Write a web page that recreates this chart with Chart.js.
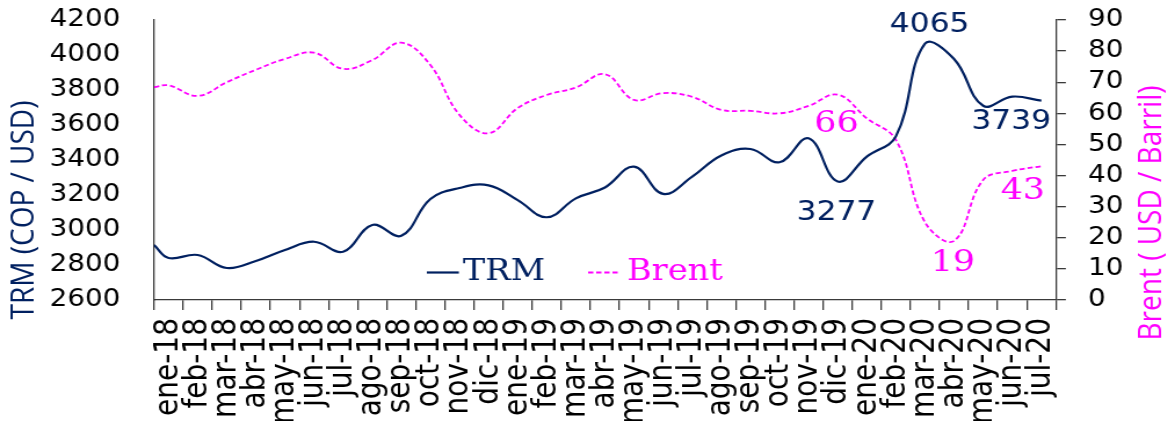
<!DOCTYPE html>
<html>
<head>
<meta charset="utf-8">
<script src="https://cdn.jsdelivr.net/npm/chart.js@4.4.1/dist/chart.umd.min.js"></script>
<style>
  html, body { margin: 0; padding: 0; background: #fff; overflow: hidden; }
  /* the chart is laid out on a narrower canvas and widened to the page */
  #wrap { width: 1013px; height: 421px; transform: scaleX(1.15992); transform-origin: 0 0; }
</style>
</head>
<body>
<div id="wrap"><canvas id="c" width="1013" height="421"></canvas></div>
<script>
// Monthly categories
const months = ['ene-18','feb-18','mar-18','abr-18','may-18','jun-18','jul-18','ago-18','sep-18','oct-18','nov-18','dic-18',
                'ene-19','feb-19','mar-19','abr-19','may-19','jun-19','jul-19','ago-19','sep-19','oct-19','nov-19','dic-19',
                'ene-20','feb-20','mar-20','abr-20','may-20','jun-20','jul-20'];

// TRM (COP / USD), one value per month, plus the value at the start of the period
const trmOpen = 2914;
const trm = [2840, 2857, 2783, 2823, 2886, 2933, 2876, 3029, 2967, 3177, 3240, 3255,
             3171, 3073, 3181, 3243, 3362, 3206, 3305, 3426, 3463, 3387, 3524, 3277,
             3419, 3535, 4065, 3977, 3710, 3762, 3739];

// Brent (USD / barril), one value per month, plus the value at the start of the period
const brentOpen = 68.4;
const brent = [69.0, 65.6, 70.0, 74.0, 77.5, 79.5, 74.3, 77.1, 82.7, 75.5, 59.5, 53.6,
               61.7, 65.9, 68.3, 72.6, 64.3, 66.5, 65.3, 61.1, 60.8, 60.0, 62.4, 66,
               58.4, 51.5, 25, 19, 38.6, 41.5, 43];

// Axis ranges
const trmAxis = { min: 2600, max: 4200, step: 200 };
const brentAxis = { min: 0, max: 90, step: 10 };

const NAVY = '#002060';
const MAGENTA = '#FF00FF';
const AXIS = '#3a3a3a';
const TICK_FONT = '24px "DejaVu Sans"';
const RIGHT_TICK_LEN = 8.6;
const RIGHT_LABEL_GAP = 19;

// a point sits at the middle of its month; the opening value sits on the left edge
const toPoints = (open, vals) => [{ x: 0, y: open }, ...vals.map((v, j) => ({ x: j + 0.5, y: v }))];

// value callouts: series, month index, offset from the point
const callouts = [
  { ds: 0, j: 26, dx: 4,   dy: -19 },
  { ds: 0, j: 23, dx: -1,  dy: 31 },
  { ds: 0, j: 30, dx: -26, dy: 21 },
  { ds: 1, j: 23, dx: -1,  dy: 30 },
  { ds: 1, j: 27, dx: -1,  dy: 22 },
  { ds: 1, j: 30, dx: -16, dy: 24.5 }
];

const calloutFonts = ['27px "DejaVu Sans"', '30px "DejaVu Serif"'];

// keeps the plot area where the axes are placed, without extra room for tick labels
const noPad = s => { s.paddingTop = 0; s.paddingBottom = 0; s.paddingLeft = 0; s.paddingRight = 0; };

const decorations = {
  id: 'decorations',
  afterDatasetsDraw(chart) {
    const ctx = chart.ctx;
    ctx.save();

    // right axis tick labels, left aligned
    const r = chart.scales.y1;
    ctx.font = TICK_FONT;
    ctx.fillStyle = '#000';
    ctx.textAlign = 'left';
    ctx.textBaseline = 'middle';
    r.ticks.forEach(t => {
      ctx.fillText(String(t.value), r.left + RIGHT_TICK_LEN + RIGHT_LABEL_GAP, r.getPixelForValue(t.value));
    });

    // value callouts
    ctx.textAlign = 'center';
    callouts.forEach(c => {
      const ds = chart.data.datasets[c.ds];
      const el = chart.getDatasetMeta(c.ds).data[c.j + 1];
      ctx.font = calloutFonts[c.ds];
      ctx.fillStyle = ds.borderColor;
      ctx.fillText(String(Math.round(ds.data[c.j + 1].y)), el.x + c.dx, el.y + c.dy);
    });

    // legend inside the plot
    const legend = [{ ds: 0, x: 368, tx: 399 }, { ds: 1, x: 507, tx: 540.5 }];
    const ly = 272.5;
    ctx.font = '29px "DejaVu Serif"';
    ctx.textAlign = 'left';
    legend.forEach(it => {
      const ds = chart.data.datasets[it.ds];
      ctx.strokeStyle = ds.borderColor;
      ctx.lineWidth = ds.borderWidth;
      ctx.setLineDash(ds.borderDash || []);
      ctx.beginPath();
      ctx.moveTo(it.x, ly);
      ctx.lineTo(it.x + 27.6, ly);
      ctx.stroke();
      ctx.setLineDash([]);
      ctx.fillStyle = ds.borderColor;
      ctx.fillText(ds.label, it.tx, ly);
    });

    // axis titles
    ctx.font = '28px "Open Sans"';
    ctx.textAlign = 'center';
    const titles = [
      { text: 'TRM (COP / USD)', x: 20.7, y: 210, color: NAVY },
      { text: 'Brent ( USD / Barril)', x: 992.7, y: 213, color: MAGENTA }
    ];
    titles.forEach(t => {
      ctx.save();
      ctx.translate(t.x, t.y);
      ctx.rotate(-Math.PI / 2);
      ctx.fillStyle = t.color;
      ctx.fillText(t.text, 0, 0);
      ctx.restore();
    });

    ctx.restore();
  }
};

new Chart(document.getElementById('c'), {
  type: 'line',
  data: {
    datasets: [
      {
        label: 'TRM',
        data: toPoints(trmOpen, trm),
        yAxisID: 'y',
        borderColor: NAVY,
        borderWidth: 2.2,
        tension: 0.4,
        pointRadius: 0,
        fill: false
      },
      {
        label: 'Brent',
        data: toPoints(brentOpen, brent),
        yAxisID: 'y1',
        borderColor: MAGENTA,
        borderWidth: 1.8,
        borderDash: [4.5, 2.5],
        tension: 0.4,
        pointRadius: 0,
        fill: false
      }
    ]
  },
  options: {
    responsive: false,
    animation: false,
    devicePixelRatio: 1,
    layout: { padding: { top: 20, left: 0, right: 0, bottom: 0 } },
    plugins: { legend: { display: false }, tooltip: { enabled: false } },
    scales: {
      x: {
        type: 'linear',
        min: 0,
        max: months.length,
        afterBuildTicks: s => { s.ticks = months.concat(['']).map((_, k) => ({ value: k })); },
        afterFit: s => { s.height = 121; noPad(s); },
        ticks: {
          autoSkip: false,
          minRotation: 90,
          maxRotation: 90,
          padding: 8,
          labelOffset: 12.54,
          color: '#000',
          font: { family: 'DejaVu Sans', size: 28 },
          callback: (v, k) => months[k] || ''
        },
        grid: { drawOnChartArea: false, drawTicks: true, tickLength: 10, color: AXIS, lineWidth: 1.3 },
        border: { display: true, color: AXIS, width: 1.3 }
      },
      y: {
        position: 'left',
        min: trmAxis.min,
        max: trmAxis.max,
        afterFit: s => { s.width = 132.8; noPad(s); },
        ticks: {
          stepSize: trmAxis.step,
          autoSkip: false,
          padding: 29,
          color: '#000',
          font: { family: 'DejaVu Sans', size: 24 },
          callback: v => String(v)
        },
        grid: { display: true, drawOnChartArea: false, drawTicks: false, color: AXIS },
        border: { display: true, color: AXIS, width: 1.3 }
      },
      y1: {
        position: 'right',
        min: brentAxis.min,
        max: brentAxis.max,
        afterFit: s => { s.width = 102.7; noPad(s); },
        ticks: {
          display: false,
          stepSize: brentAxis.step,
          autoSkip: false
        },
        grid: { drawOnChartArea: false, drawTicks: true, tickLength: RIGHT_TICK_LEN, color: AXIS, lineWidth: 1.3 },
        border: { display: true, color: AXIS, width: 1.3 }
      }
    }
  },
  plugins: [decorations]
});
</script>
</body>
</html>
